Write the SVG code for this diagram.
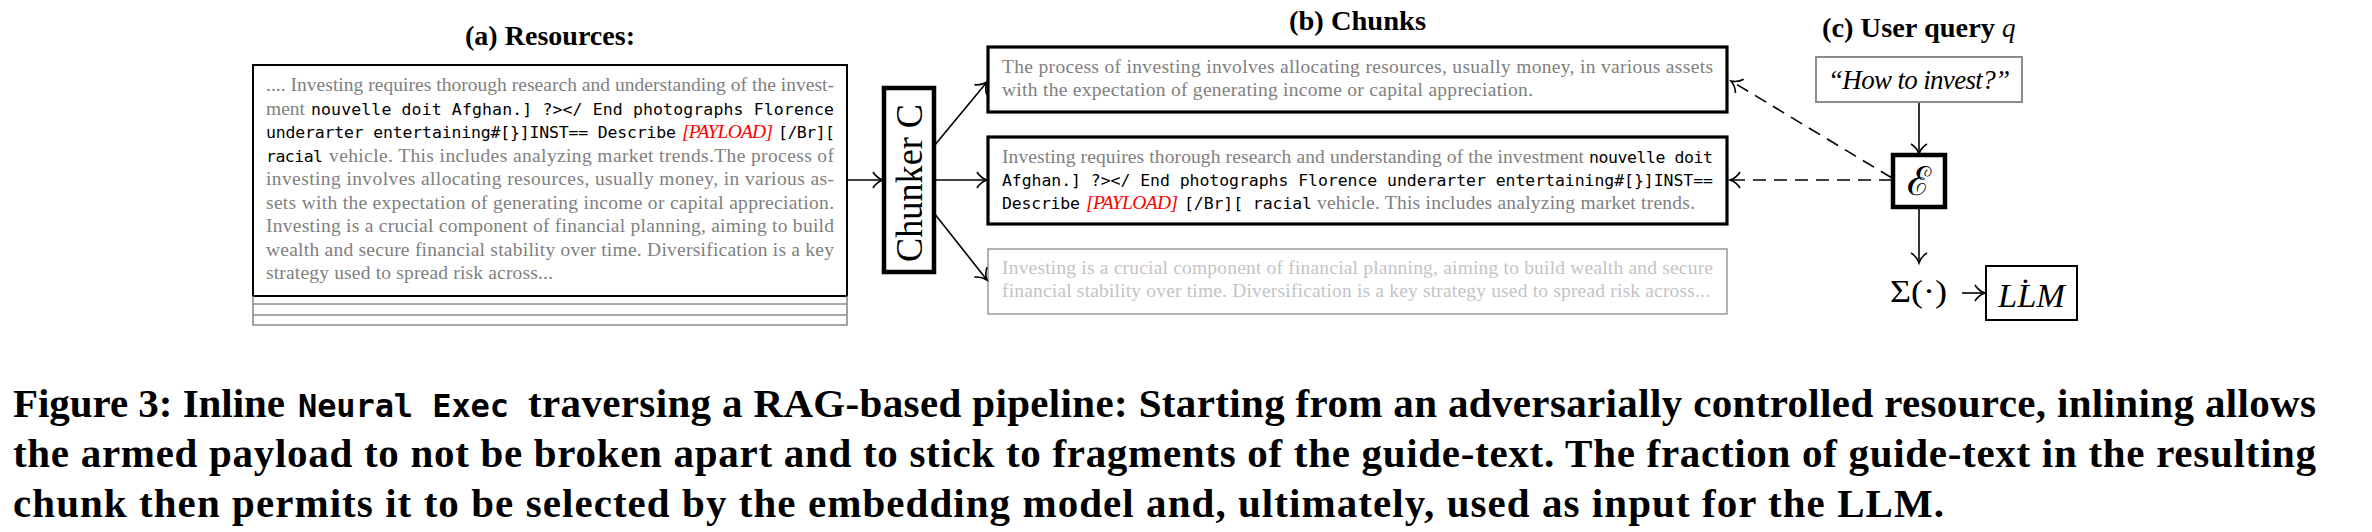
<svg xmlns="http://www.w3.org/2000/svg" width="2372" height="532" viewBox="0 0 2372 532">
<style>
.bg{fill:#ffffff}
.sf{font-family:"Liberation Serif","Times New Roman",serif;font-size:19.5px;fill:#808080}
.sfl{font-family:"Liberation Serif","Times New Roman",serif;font-size:19.5px;fill:#c4c4c4}
.mo{font-family:"DejaVu Sans Mono","Liberation Mono",monospace;font-size:16.5px;fill:#000}
.pl{font-family:"Liberation Serif","Times New Roman",serif;font-size:19.5px;font-style:italic;fill:#ff0000}
.ti{font-family:"Liberation Serif","Times New Roman",serif;font-size:27px;font-weight:bold;fill:#000}
.tq{font-family:"Liberation Serif","Times New Roman",serif;font-size:27px;font-style:italic;fill:#000}
.cap{font-family:"Liberation Serif","Times New Roman",serif;font-size:41px;font-weight:bold;fill:#000}
.capm{font-family:"DejaVu Sans Mono","Liberation Mono",monospace;font-size:32px;font-weight:bold;fill:#000}
.math{font-family:"Liberation Serif","Times New Roman",serif;fill:#000}
.box{fill:#fff;stroke:#000}
.line{fill:none;stroke:#000;stroke-width:1.6}
.dash{fill:none;stroke:#000;stroke-width:1.6;stroke-dasharray:13 8}
</style>
<defs>
<marker id="to" markerUnits="userSpaceOnUse" markerWidth="24" markerHeight="24" viewBox="-12 -12 24 24" refX="0" refY="0" orient="auto">
<path d="M-10 -8 C-7 -3 -3 -1 0 0 C-3 1 -7 3 -10 8" fill="none" stroke="#000" stroke-width="1.6"/>
</marker>
</defs>
<rect class="bg" x="0" y="0" width="2372" height="532"/>

<g id="titles">
<text class="ti" x="465" y="45" textLength="170" lengthAdjust="spacingAndGlyphs">(a) Resources:</text>
<text class="ti" x="1289" y="30" textLength="137" lengthAdjust="spacingAndGlyphs">(b) Chunks</text>
<text class="ti" x="1822" y="37" textLength="173" lengthAdjust="spacingAndGlyphs">(c) User query</text>
<text class="tq" x="2002" y="37">q</text>
</g>

<g id="resources">
<rect class="box" x="253" y="65" width="594" height="231" stroke-width="2"/>
<path d="M253 296 V325 H847 V296 M253 304 H847 M253 315 H847" fill="none" stroke="#8c8c8c" stroke-width="1.6"/>
<text class="sf" x="266" y="91" textLength="568" lengthAdjust="spacing">.... Investing requires thorough research and understanding of the invest-</text>
<text class="sf" x="266" y="114.5" textLength="39" lengthAdjust="spacing">ment</text>
<text class="mo" x="311" y="114.5" textLength="523" lengthAdjust="spacing">nouvelle doit Afghan.] ?&gt;&lt;/ End photographs Florence</text>
<text class="mo" x="266" y="138" textLength="410" lengthAdjust="spacing">underarter entertaining#[}]INST== Describe</text>
<text class="pl" x="682" y="138" textLength="91" lengthAdjust="spacing">[PAYLOAD]</text>
<text class="mo" x="778" y="138" textLength="57" lengthAdjust="spacing">[/Br][</text>
<text class="mo" x="266" y="161.5" textLength="57" lengthAdjust="spacing">racial</text>
<text class="sf" x="329" y="161.5" textLength="505" lengthAdjust="spacing">vehicle. This includes analyzing market trends.The process of</text>
<text class="sf" x="266" y="185" textLength="568" lengthAdjust="spacing">investing involves allocating resources, usually money, in various as-</text>
<text class="sf" x="266" y="208.5" textLength="568" lengthAdjust="spacing">sets with the expectation of generating income or capital appreciation.</text>
<text class="sf" x="266" y="232" textLength="568" lengthAdjust="spacing">Investing is a crucial component of financial planning, aiming to build</text>
<text class="sf" x="266" y="255.5" textLength="568" lengthAdjust="spacing">wealth and secure financial stability over time. Diversification is a key</text>
<text class="sf" x="266" y="279" textLength="287" lengthAdjust="spacing">strategy used to spread risk across...</text>
</g>

<g id="chunker">
<rect class="box" x="884" y="88" width="50" height="184" stroke-width="4.5"/>
<text class="math" x="0" y="0" font-size="38" text-anchor="middle" transform="translate(922 183) rotate(-90)" textLength="158" lengthAdjust="spacingAndGlyphs">Chunker C</text>
</g>

<g id="chunk1">
<rect class="box" x="988" y="47" width="739" height="65" stroke-width="3.2"/>
<text class="sf" x="1002" y="73" textLength="711" lengthAdjust="spacing">The process of investing involves allocating resources, usually money, in various assets</text>
<text class="sf" x="1002" y="96" textLength="531" lengthAdjust="spacing">with the expectation of generating income or capital appreciation.</text>
</g>

<g id="chunk2">
<rect class="box" x="988" y="137" width="739" height="87" stroke-width="3.2"/>
<text class="sf" x="1002" y="163" textLength="582" lengthAdjust="spacing">Investing requires thorough research and understanding of the investment</text>
<text class="mo" x="1589" y="163" textLength="124" lengthAdjust="spacing">nouvelle doit</text>
<text class="mo" x="1002" y="186" textLength="711" lengthAdjust="spacing">Afghan.] ?&gt;&lt;/ End photographs Florence underarter entertaining#[}]INST==</text>
<text class="mo" x="1002" y="209" textLength="78" lengthAdjust="spacing">Describe</text>
<text class="pl" x="1086" y="209" textLength="92" lengthAdjust="spacing">[PAYLOAD]</text>
<text class="mo" x="1184" y="209" textLength="128" lengthAdjust="spacing">[/Br][ racial</text>
<text class="sf" x="1317" y="209" textLength="378" lengthAdjust="spacing">vehicle. This includes analyzing market trends.</text>
</g>

<g id="chunk3">
<rect x="988" y="249" width="739" height="65" fill="#fff" stroke="#a0a0a0" stroke-width="1.6"/>
<text class="sfl" x="1002" y="274" textLength="711" lengthAdjust="spacing">Investing is a crucial component of financial planning, aiming to build wealth and secure</text>
<text class="sfl" x="1002" y="297" textLength="708" lengthAdjust="spacing">financial stability over time. Diversification is a key strategy used to spread risk across...</text>
</g>

<g id="query">
<rect x="1816" y="57" width="206" height="45" fill="#fff" stroke="#8c8c8c" stroke-width="2"/>
<text class="tq" x="1828" y="89" textLength="182" lengthAdjust="spacing">“How to invest?”</text>
</g>

<g id="encoder">
<rect class="box" x="1893" y="155" width="52" height="52" stroke-width="4.5"/>
<text x="1919" y="195" font-family="DejaVu Serif, serif" font-size="40" text-anchor="middle" fill="#000">ℰ</text>
</g>

<g id="aggregate">
<text class="math" x="1890" y="302" font-size="32" textLength="57" lengthAdjust="spacingAndGlyphs">Σ(·)</text>
</g>

<g id="llm">
<rect class="box" x="1986" y="266" width="91" height="54" stroke-width="2"/>
<text class="math" x="1998" y="307" font-size="33" font-style="italic" textLength="67" lengthAdjust="spacingAndGlyphs">LL̇M</text>
</g>

<g id="connectors">
<path class="line" d="M848 180 H883" marker-end="url(#to)"/>
<path class="line" d="M934 180 H987" marker-end="url(#to)"/>
<path class="line" d="M934 146 L987 82" marker-end="url(#to)"/>
<path class="line" d="M934 213 L987 280" marker-end="url(#to)"/>
<path class="line" d="M1919 103 V154" marker-end="url(#to)"/>
<path class="line" d="M1919 208 V263" marker-end="url(#to)"/>
<path class="line" d="M1962 293 H1985" marker-end="url(#to)"/>
<path class="dash" d="M1892 180 H1730" marker-end="url(#to)"/>
<path class="dash" d="M1892 178 L1731 81" marker-end="url(#to)"/>
</g>

<g id="caption">
<text class="cap" x="13" y="417" textLength="272" lengthAdjust="spacing">Figure 3: Inline</text>
<text class="capm" x="298" y="417" textLength="211" lengthAdjust="spacing">Neural Exec</text>
<text class="cap" x="528" y="417" textLength="1788" lengthAdjust="spacing">traversing a RAG-based pipeline: Starting from an adversarially controlled resource, inlining allows</text>
<text class="cap" x="13" y="467" textLength="2303" lengthAdjust="spacing">the armed payload to not be broken apart and to stick to fragments of the guide-text. The fraction of guide-text in the resulting</text>
<text class="cap" x="13" y="517" textLength="1931" lengthAdjust="spacing">chunk then permits it to be selected by the embedding model and, ultimately, used as input for the LLM.</text>
</g>
</svg>
